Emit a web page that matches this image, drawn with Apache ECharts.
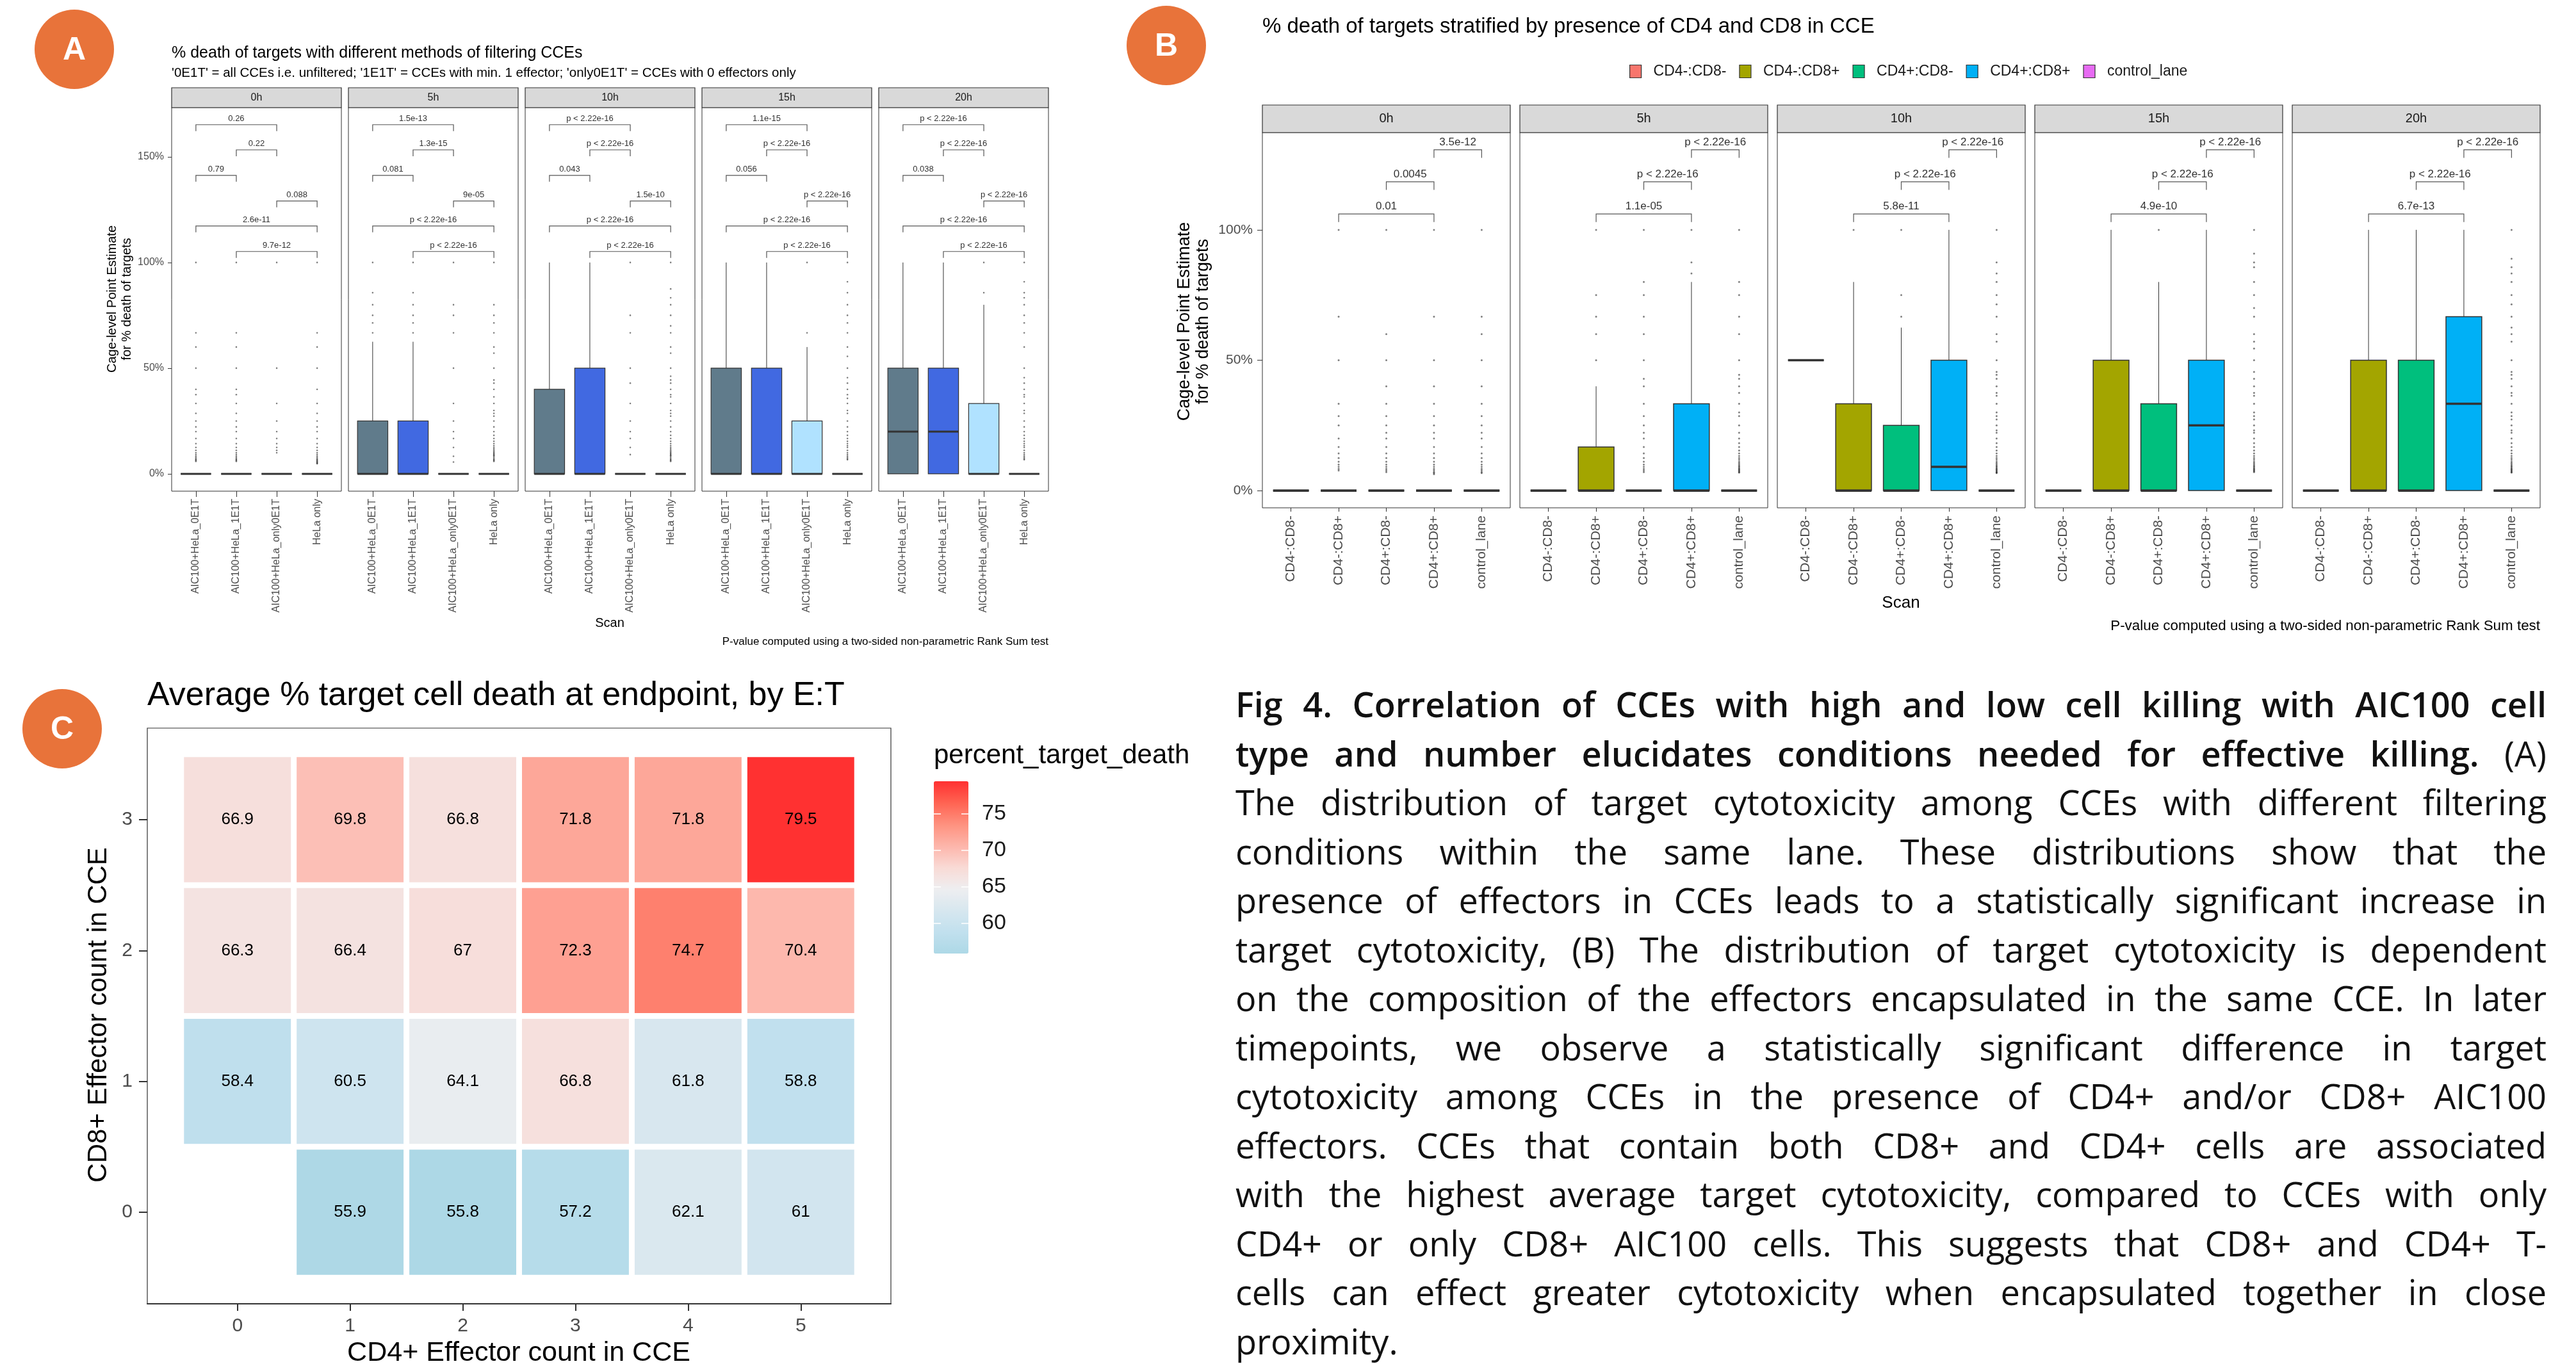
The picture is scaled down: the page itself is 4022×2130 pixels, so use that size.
<!DOCTYPE html>
<html>
<head>
<meta charset="utf-8">
<title>Fig 4</title>
<script src="https://cdn.jsdelivr.net/npm/echarts@6.0.0/dist/echarts.min.js"></script>
<style>
  html, body { margin: 0; padding: 0; background: #fff; }
  #chart { position: absolute; left: 0; top: 0; width: 4022px; height: 2130px; }
  #caption { position: absolute; left: 1929px; top: 1061px; width: 2047px;
    font-family: 'Open Sans', 'Noto Sans', sans-serif; font-size: 54px; line-height: 76.5px; color: #111; }
  #caption div { text-align: justify; text-align-last: justify; }
  #caption div.last { text-align-last: left; }
  #caption b { font-weight: 600; }
</style>
</head>
<body>
<div id="chart"></div>
<div id="caption">
  <div><b>Fig 4. Correlation of CCEs with high and low cell killing with AIC100 cell</b></div>
  <div><b>type and number elucidates conditions needed for effective killing.</b> (A)</div>
  <div>The distribution of target cytotoxicity among CCEs with different filtering</div>
  <div>conditions within the same lane. These distributions show that the</div>
  <div>presence of effectors in CCEs leads to a statistically significant increase in</div>
  <div>target cytotoxicity, (B) The distribution of target cytotoxicity is dependent</div>
  <div>on the composition of the effectors encapsulated in the same CCE. In later</div>
  <div>timepoints, we observe a statistically significant difference in target</div>
  <div>cytotoxicity among CCEs in the presence of CD4+ and/or CD8+ AIC100</div>
  <div>effectors. CCEs that contain both CD8+ and CD4+ cells are associated</div>
  <div>with the highest average target cytotoxicity, compared to CCEs with only</div>
  <div>CD4+ or only CD8+ AIC100 cells. This suggests that CD8+ and CD4+ T-</div>
  <div>cells can effect greater cytotoxicity when encapsulated together in close</div>
  <div class="last">proximity.</div>
</div>
<script>
var FONT = 'Liberation Sans, Arial, sans-serif';
var GREY = '#4D4D4D';
var DARK = '#333333';

var facets = ['0h', '5h', '10h', '15h', '20h'];

// ---- panel A : filtering methods ----
var groupsA = ['AIC100+HeLa_0E1T', 'AIC100+HeLa_1E1T', 'AIC100+HeLa_only0E1T', 'HeLa only'];
var colorsA = ['#607B8B', '#4169E1', '#B0E2FF', '#BEBEBE'];
// [min, q1, median, q3, max] for each time point and group
var boxA = [
  [[0, 0, 0, 0, 0], [0, 0, 0, 0, 0], [0, 0, 0, 0, 0], [0, 0, 0, 0, 0]],
  [[0, 0, 0, 25, 62.5], [0, 0, 0, 25, 62.5], [0, 0, 0, 0, 0], [0, 0, 0, 0, 0]],
  [[0, 0, 0, 40, 100], [0, 0, 0, 50, 100], [0, 0, 0, 0, 0], [0, 0, 0, 0, 0]],
  [[0, 0, 0, 50, 100], [0, 0, 0, 50, 100], [0, 0, 0, 25, 60], [0, 0, 0, 0, 0]],
  [[0, 0, 20, 50, 100], [0, 0, 20, 50, 100], [0, 0, 0, 33.3, 80], [0, 0, 0, 0, 0]]
];
var outA = [
  [
    [100, 66.7, 60, 50, 40, 37.5, 33.3, 28.6, 25, 22.2, 20, 16.7, 14.3, 12.5, 11.1, 10, 9.1, 8.3, 7.7, 7.1, 6.7, 6.3, 5.9],
    [100, 66.7, 60, 50, 40, 37.5, 33.3, 28.6, 25, 22.2, 20, 16.7, 14.3, 12.5, 11.1, 10, 9.1, 8.3, 7.7, 7.1, 6.7, 6.3, 5.9],
    [100, 50, 33.3, 25, 20, 16.7, 14.3, 12.5, 11.1, 10],
    [100, 66.7, 60, 50, 40, 33.3, 28.6, 25, 22.2, 20, 16.7, 14.3, 12.5, 11.1, 10, 9.1, 8.3, 7.7, 7.1, 6.7, 6.3, 5.9, 5.6, 5.3, 5, 4.8]
  ],
  [
    [100, 85.7, 80, 75, 71.4, 66.7],
    [100, 85.7, 80, 75, 71.4, 66.7],
    [100, 80, 75, 66.7, 50, 33.3, 25, 20, 16.7, 12.5, 8.3, 5.6],
    [100, 80, 75, 71.4, 66.7, 60, 57.1, 50, 44.4, 42.9, 40, 36.4, 33.3, 30, 28.6, 27.3, 25, 22.2, 20, 18.2, 16.7, 15.4, 14.3, 13.3, 12.5, 11.8, 11.1, 10.5, 10, 9.5, 9.1, 8.7, 8.3, 7.7, 7.1, 6.7, 6.3, 5.9]
  ],
  [
    [],
    [],
    [100, 75, 66.7, 50, 42.9, 33.3, 25, 20, 16.7, 12.5, 9.1],
    [100, 87.5, 83.3, 80, 75, 70, 66.7, 60, 57.1, 50, 46.2, 44.4, 42.9, 40, 37.5, 36.4, 33.3, 30, 28.6, 27.3, 25, 22.2, 20, 18.2, 16.7, 15.4, 14.3, 13.3, 12.5, 11.8, 11.1, 10.5, 10, 9.5, 9.1, 8.7, 8.3, 7.7, 7.1, 6.7, 6.3, 5.9]
  ],
  [
    [],
    [],
    [100, 66.7],
    [100, 90.9, 85.7, 80, 75, 71.4, 66.7, 60, 55.6, 50, 45.5, 42.9, 40, 37.5, 35.7, 33.3, 30, 28.6, 25, 22.2, 20, 18.2, 16.7, 15.4, 14.3, 13.3, 12.5, 11.1, 10, 9.1, 8.3, 7.7, 7.1, 6.7]
  ],
  [
    [],
    [],
    [100, 85.7],
    [100, 90.9, 85.7, 83.3, 80, 75, 71.4, 66.7, 60, 50, 45.5, 42.9, 40, 37.5, 36.4, 33.3, 30, 28.6, 25, 22.2, 20, 18.2, 16.7, 15.4, 14.3, 13.3, 12.5, 11.1, 10, 9.1, 8.3, 7.7, 7.1, 6.7]
  ]
];
var pairsA = [[1, 3], [2, 3], [1, 2], [3, 4], [1, 4], [2, 4]];
var levelsA = [165.2, 153.3, 141.2, 129.1, 117.3, 105.2];
var pvalA = [
  ['0.26', '0.22', '0.79', '0.088', '2.6e-11', '9.7e-12'],
  ['1.5e-13', '1.3e-15', '0.081', '9e-05', 'p < 2.22e-16', 'p < 2.22e-16'],
  ['p < 2.22e-16', 'p < 2.22e-16', '0.043', '1.5e-10', 'p < 2.22e-16', 'p < 2.22e-16'],
  ['1.1e-15', 'p < 2.22e-16', '0.056', 'p < 2.22e-16', 'p < 2.22e-16', 'p < 2.22e-16'],
  ['p < 2.22e-16', 'p < 2.22e-16', '0.038', 'p < 2.22e-16', 'p < 2.22e-16', 'p < 2.22e-16']
];
var ticksA = [0, 50, 100, 150];

// ---- panel B : CD4 / CD8 composition ----
var groupsB = ['CD4-:CD8-', 'CD4-:CD8+', 'CD4+:CD8-', 'CD4+:CD8+', 'control_lane'];
var colorsB = ['#F8766D', '#A3A500', '#00BF7D', '#00B0F6', '#E76BF3'];
var boxB = [
  [[0, 0, 0, 0, 0], [0, 0, 0, 0, 0], [0, 0, 0, 0, 0], [0, 0, 0, 0, 0], [0, 0, 0, 0, 0]],
  [[0, 0, 0, 0, 0], [0, 0, 0, 16.7, 40], [0, 0, 0, 0, 0], [0, 0, 0, 33.3, 80], [0, 0, 0, 0, 0]],
  [[50, 50, 50, 50, 50], [0, 0, 0, 33.3, 80], [0, 0, 0, 25, 62.5], [0, 0, 9.1, 50, 100], [0, 0, 0, 0, 0]],
  [[0, 0, 0, 0, 0], [0, 0, 0, 50, 100], [0, 0, 0, 33.3, 80], [0, 0, 25, 50, 100], [0, 0, 0, 0, 0]],
  [[0, 0, 0, 0, 0], [0, 0, 0, 50, 100], [0, 0, 0, 50, 100], [0, 0, 33.3, 66.7, 100], [0, 0, 0, 0, 0]]
];
var outB = [
  [
    [],
    [100, 66.7, 50, 33.3, 28.6, 25, 20, 16.7, 14.3, 12.5, 11.1, 10, 9.1, 8.3, 7.7],
    [100, 60, 50, 40, 33.3, 28.6, 25, 22.2, 20, 16.7, 14.3, 12.5, 11.1, 10, 9.1, 8.3, 7.7, 7.1],
    [100, 66.7, 50, 40, 33.3, 28.6, 25, 22.2, 20, 16.7, 14.3, 12.5, 11.1, 10, 9.1, 8.3, 7.7, 7.1, 6.7, 6.3],
    [100, 66.7, 60, 50, 40, 33.3, 28.6, 25, 22.2, 20, 16.7, 14.3, 12.5, 11.1, 10, 9.1, 8.3, 7.7, 7.1, 6.7]
  ],
  [
    [],
    [100, 75, 66.7, 60, 50],
    [100, 80, 75, 66.7, 60, 50, 42.9, 40, 33.3, 28.6, 25, 22.2, 20, 16.7, 14.3, 12.5, 11.1, 10, 9.1, 8.3, 7.7, 7.1],
    [100, 87.5, 83.3],
    [100, 80, 75, 66.7, 60, 50, 44.4, 42.9, 40, 37.5, 33.3, 30, 28.6, 25, 22.2, 20, 18.2, 16.7, 15.4, 14.3, 13.3, 12.5, 11.8, 11.1, 10.5, 10, 9.5, 9.1, 8.7, 8.3, 8, 7.7, 7.4, 7.1, 6.9]
  ],
  [
    [],
    [100],
    [100, 75, 66.7],
    [],
    [100, 87.5, 83.3, 80, 75, 71.4, 66.7, 60, 57.1, 50, 45.5, 44.4, 42.9, 40, 37.5, 36.4, 33.3, 30, 28.6, 27.3, 25, 23.1, 22.2, 20, 18.2, 16.7, 15.4, 14.3, 13.3, 12.5, 11.8, 11.1, 10.5, 10, 9.5, 9.1, 8.7, 8.3, 8, 7.7, 7.4, 7.1, 6.9, 6.7]
  ],
  [
    [],
    [],
    [100],
    [],
    [100, 90.9, 87.5, 85.7, 80, 75, 70, 66.7, 60, 57.1, 54.5, 50, 45.5, 42.9, 40, 37.5, 36.4, 33.3, 30, 28.6, 27.3, 25, 23.1, 22.2, 20, 18.2, 16.7, 15.4, 14.3, 13.3, 12.5, 11.8, 11.1, 10.5, 10, 9.5, 9.1, 8.7, 8.3, 8, 7.7, 7.4, 7.1]
  ],
  [
    [],
    [],
    [],
    [],
    [100, 88.9, 85.7, 83.3, 80, 75, 71.4, 66.7, 62.5, 60, 57.1, 50, 45.5, 44.4, 42.9, 40, 37.5, 36.4, 33.3, 30, 28.6, 27.3, 25, 23.1, 22.2, 20, 18.2, 16.7, 15.4, 14.3, 13.3, 12.5, 11.8, 11.1, 10.5, 10, 9.5, 9.1, 8.7, 8.3, 8, 7.7, 7.4, 7.1, 6.9]
  ]
];
var pairsB = [[4, 5], [3, 4], [2, 4]];
var levelsB = [130.7, 118.4, 106.1];
var pvalB = [
  ['3.5e-12', '0.0045', '0.01'],
  ['p < 2.22e-16', 'p < 2.22e-16', '1.1e-05'],
  ['p < 2.22e-16', 'p < 2.22e-16', '5.8e-11'],
  ['p < 2.22e-16', 'p < 2.22e-16', '4.9e-10'],
  ['p < 2.22e-16', 'p < 2.22e-16', '6.7e-13']
];
var ticksB = [0, 50, 100];

// ---- panel C : heatmap ----
var cd4 = [0, 1, 2, 3, 4, 5];
var cd8 = [0, 1, 2, 3];
// rows follow cd8, columns follow cd4
var heatVals = [
  [null, 55.9, 55.8, 57.2, 62.1, 61],
  [58.4, 60.5, 64.1, 66.8, 61.8, 58.8],
  [66.3, 66.4, 67, 72.3, 74.7, 70.4],
  [66.9, 69.8, 66.8, 71.8, 71.8, 79.5]
];
var barTicks = [60, 65, 70, 75];

// layout (px)
var layA = {left: [268, 544, 820, 1096, 1372], width: 265, stripTop: 137, top: 168, bottom: 767, yMin: -8.2, yMax: 173.3};
var layB = {left: [1971, 2373, 2775, 3177, 3579], width: 387, stripTop: 164, top: 207, bottom: 793, yMin: -6.6, yMax: 137.3};
var styA = {xFont: 16, xMargin: 12, xTick: 9, yFont: 16, yMargin: 12, yTick: 6, yTicks: ticksA,
  dot: 2.6, boxLine: 1.2, medLine: 3, leg: 3, pFont: 13, stripFont: 16};
var styB = {xFont: 21, xMargin: 12, xTick: 6, yFont: 21, yMargin: 15, yTick: 8, yTicks: ticksB,
  dot: 3, boxLine: 1.5, medLine: 3.6, leg: 3.1, pFont: 17, stripFont: 20};

var chart = echarts.init(document.getElementById('chart'));

var grids = [], xAxes = [], yAxes = [], series = [], graphics = [];

function seq(n) {
  var r = [];
  for (var i = 1; i <= n; i++) r.push(i);
  return r;
}

function boxRender(lw, medW) {
  return function (params, api) {
    var x = api.value(0);
    var lo = api.coord([x, api.value(1)]);
    var q1 = api.coord([x, api.value(2)]);
    var md = api.coord([x, api.value(3)]);
    var q3 = api.coord([x, api.value(4)]);
    var hi = api.coord([x, api.value(5)]);
    var w = api.size([0.75, 0])[0];
    var cx = md[0];
    return {
      type: 'group',
      children: [
        {type: 'line', shape: {x1: cx, y1: q3[1], x2: cx, y2: hi[1]}, style: {stroke: DARK, lineWidth: 1}},
        {type: 'line', shape: {x1: cx, y1: q1[1], x2: cx, y2: lo[1]}, style: {stroke: DARK, lineWidth: 1}},
        {type: 'rect', shape: {x: cx - w / 2, y: q3[1], width: w, height: q1[1] - q3[1]},
          style: {fill: api.visual('color'), stroke: DARK, lineWidth: lw}},
        {type: 'line', shape: {x1: cx - w / 2, y1: md[1], x2: cx + w / 2, y2: md[1]}, style: {stroke: DARK, lineWidth: medW}}
      ]
    };
  };
}

function bracketRender(labels, leg, fs) {
  return function (params, api) {
    var y = api.value(2);
    var a = api.coord([api.value(0), y]);
    var b = api.coord([api.value(1), y]);
    var low = api.coord([api.value(0), y - leg])[1];
    return {
      type: 'group',
      children: [
        {type: 'polyline', shape: {points: [[a[0], low], [a[0], a[1]], [b[0], b[1]], [b[0], low]]},
          style: {stroke: '#555555', lineWidth: 1.2, fill: 'none'}},
        {type: 'text', x: (a[0] + b[0]) / 2, y: a[1] - 3,
          style: {text: labels[params.dataIndex], align: 'center', verticalAlign: 'bottom',
            fontSize: fs, fontFamily: FONT, fill: '#333333'}}
      ]
    };
  };
}

function addFacet(lay, fi, cats, colors, boxes, outs, pairs, levels, pvals, st) {
  var gi = grids.length;
  grids.push({left: lay.left[fi], top: lay.top, width: lay.width, height: lay.bottom - lay.top,
    show: true, borderColor: DARK, borderWidth: 1, backgroundColor: 'transparent', outerBoundsMode: 'none'});
  var ticks = seq(cats.length);
  xAxes.push({type: 'value', gridIndex: gi, min: 0.4, max: cats.length + 0.6,
    axisLine: {show: false, onZero: false},
    axisTick: {show: true, customValues: ticks, length: st.xTick, lineStyle: {color: DARK}},
    axisLabel: {customValues: ticks, rotate: 90, margin: st.xMargin, fontSize: st.xFont, color: GREY, fontFamily: FONT,
      formatter: function (v) { return cats[Math.round(v) - 1]; }},
    splitLine: {show: false}});
  yAxes.push({type: 'value', gridIndex: gi, min: lay.yMin, max: lay.yMax,
    axisLine: {show: false, onZero: false},
    axisTick: {show: fi === 0, customValues: st.yTicks, length: st.yTick, lineStyle: {color: DARK}},
    axisLabel: {show: fi === 0, customValues: st.yTicks, formatter: '{value}%', margin: st.yMargin,
      fontSize: st.yFont, color: GREY, fontFamily: FONT},
    splitLine: {show: false}});
  var pts = [];
  outs.forEach(function (vals, k) {
    vals.forEach(function (v) { pts.push([k + 1, v]); });
  });
  series.push({type: 'scatter', xAxisIndex: gi, yAxisIndex: gi, symbolSize: st.dot, silent: true,
    itemStyle: {color: 'rgba(35,35,35,0.72)'}, data: pts});
  series.push({type: 'custom', xAxisIndex: gi, yAxisIndex: gi, silent: true,
    renderItem: boxRender(st.boxLine, st.medLine), encode: {x: 0, y: [1, 2, 3, 4, 5]},
    data: boxes.map(function (b, k) { return {value: [k + 1].concat(b), itemStyle: {color: colors[k]}}; })});
  series.push({type: 'custom', xAxisIndex: gi, yAxisIndex: gi, silent: true,
    renderItem: bracketRender(pvals, st.leg, st.pFont), encode: {x: [0, 1], y: 2},
    data: pairs.map(function (p, k) { return [p[0], p[1], levels[k]]; })});
  graphics.push({type: 'rect', z: 5,
    shape: {x: lay.left[fi], y: lay.stripTop, width: lay.width, height: lay.top - lay.stripTop},
    style: {fill: '#D9D9D9', stroke: DARK, lineWidth: 1.2}});
  graphics.push({type: 'text', z: 6, x: lay.left[fi] + lay.width / 2, y: (lay.stripTop + lay.top) / 2,
    style: {text: facets[fi], fontSize: st.stripFont, fontFamily: FONT, fill: '#1A1A1A',
      align: 'center', verticalAlign: 'middle'}});
}

facets.forEach(function (f, fi) {
  addFacet(layA, fi, groupsA, colorsA, boxA[fi], outA[fi], pairsA, levelsA, pvalA[fi], styA);
});
facets.forEach(function (f, fi) {
  addFacet(layB, fi, groupsB, colorsB, boxB[fi], outB[fi], pairsB, levelsB, pvalB[fi], styB);
});

// legend entries for panel B
groupsB.forEach(function (g, k) {
  series.push({type: 'custom', name: g, xAxisIndex: 5, yAxisIndex: 5, data: [],
    itemStyle: {color: colorsB[k]}, renderItem: function () { return null; }});
});

// heatmap grid
var hg = grids.length;
grids.push({left: 230, top: 1137, width: 1161, height: 899, show: true, borderColor: DARK, borderWidth: 1.2,
  backgroundColor: 'transparent', outerBoundsMode: 'none'});
xAxes.push({type: 'value', gridIndex: hg, min: -0.8, max: 5.8,
  axisLine: {show: true, onZero: false, lineStyle: {color: DARK, width: 2}},
  axisTick: {customValues: cd4, length: 11, lineStyle: {color: DARK, width: 2}},
  axisLabel: {customValues: cd4, margin: 20, fontSize: 30, color: GREY, fontFamily: FONT},
  splitLine: {show: false}});
yAxes.push({type: 'value', gridIndex: hg, min: -0.7, max: 3.7,
  axisLine: {show: false, onZero: false},
  axisTick: {customValues: cd8, length: 13, lineStyle: {color: DARK, width: 2}},
  axisLabel: {customValues: cd8, margin: 23, fontSize: 30, color: GREY, fontFamily: FONT},
  splitLine: {show: false}});
var heatData = [];
cd8.forEach(function (r, ri) {
  cd4.forEach(function (c, ci) {
    if (heatVals[ri][ci] != null) heatData.push([c, r, heatVals[ri][ci]]);
  });
});
var heatIndex = series.length;
series.push({type: 'custom', xAxisIndex: hg, yAxisIndex: hg, silent: true, encode: {x: 0, y: 1},
  data: heatData,
  renderItem: function (params, api) {
    var x = api.value(0), y = api.value(1), v = api.value(2);
    var p0 = api.coord([x - 0.5, y + 0.5]);
    var p1 = api.coord([x + 0.5, y - 0.5]);
    var inset = 4.5;
    return {
      type: 'group',
      children: [
        {type: 'rect', shape: {x: p0[0] + inset, y: p0[1] + inset, width: p1[0] - p0[0] - 2 * inset,
          height: p1[1] - p0[1] - 2 * inset}, style: {fill: api.visual('color')}},
        {type: 'text', x: (p0[0] + p1[0]) / 2, y: (p0[1] + p1[1]) / 2,
          style: {text: String(v), align: 'center', verticalAlign: 'middle', fontSize: 26,
            fontFamily: FONT, fill: '#000000'}}
      ]
    };
  }});

// colour bar ticks
var bg = grids.length;
grids.push({left: 1458, top: 1220, width: 54, height: 269, show: false, outerBoundsMode: 'none'});
xAxes.push({type: 'value', gridIndex: bg, show: false, min: 0, max: 1});
yAxes.push({type: 'value', gridIndex: bg, position: 'right', min: 55.8, max: 79.5, z: 10,
  axisLine: {show: false, onZero: false},
  axisTick: {customValues: barTicks, inside: true, length: 11, lineStyle: {color: '#FFFFFF', width: 1.5}},
  axisLabel: {customValues: barTicks, margin: 21, fontSize: 34, color: '#1A1A1A', fontFamily: FONT},
  splitLine: {show: false}});
yAxes.push({type: 'value', gridIndex: bg, position: 'left', min: 55.8, max: 79.5, z: 10,
  axisLine: {show: false, onZero: false},
  axisTick: {customValues: barTicks, inside: true, length: 11, lineStyle: {color: '#FFFFFF', width: 1.5}},
  axisLabel: {show: false},
  splitLine: {show: false}});

// text and decorations
function txt(x, y, s, size, opts) {
  var o = opts || {};
  return {type: 'text', x: x, y: y, rotation: o.rot || 0, z: 6,
    style: {text: s, fontSize: size, fontFamily: o.font || FONT, fontWeight: o.weight || 'normal',
      fill: o.color || '#000000', align: o.align || 'left', verticalAlign: 'middle', lineHeight: o.lh}};
}
[['A', 116, 77], ['B', 1821, 71], ['C', 97, 1138]].forEach(function (c) {
  graphics.push({type: 'circle', z: 6, shape: {cx: c[1], cy: c[2], r: 62}, style: {fill: '#E8733A'}});
  graphics.push(txt(c[1], c[2] + 2, c[0], 50, {align: 'center', color: '#FFFFFF', weight: 'bold'}));
});
graphics.push(txt(268, 83, '% death of targets with different methods of filtering CCEs', 25));
graphics.push(txt(268, 114, "'0E1T' = all CCEs i.e. unfiltered; '1E1T' = CCEs with min. 1 effector; 'only0E1T' = CCEs with 0 effectors only", 20.5));
graphics.push(txt(187, 467, 'Cage-level Point Estimate\nfor % death of targets', 20, {align: 'center', rot: Math.PI / 2, lh: 23}));
graphics.push(txt(952, 973, 'Scan', 20, {align: 'center'}));
graphics.push(txt(1637, 1002, 'P-value computed using a two-sided non-parametric Rank Sum test', 17, {align: 'right'}));

graphics.push(txt(1971, 42, '% death of targets stratified by presence of CD4 and CD8 in CCE', 33));
graphics.push(txt(1864, 502, 'Cage-level Point Estimate\nfor % death of targets', 27, {align: 'center', rot: Math.PI / 2, lh: 29}));
graphics.push(txt(2968, 942, 'Scan', 26, {align: 'center'}));
graphics.push(txt(3966, 978, 'P-value computed using a two-sided non-parametric Rank Sum test', 22.4, {align: 'right'}));

graphics.push(txt(230, 1087, 'Average % target cell death at endpoint, by E:T', 52));
graphics.push(txt(810, 2113, 'CD4+ Effector count in CCE', 43, {align: 'center'}));
graphics.push(txt(154, 1585, 'CD8+ Effector count in CCE', 42, {align: 'center', rot: Math.PI / 2}));
graphics.push(txt(1458, 1180, 'percent_target_death', 42));

chart.setOption({
  animation: false,
  backgroundColor: '#FFFFFF',
  grid: grids,
  xAxis: xAxes,
  yAxis: yAxes,
  legend: {
    data: groupsB, left: 2539, top: 95, icon: 'rect', itemWidth: 18, itemHeight: 20, itemGap: 20,
    selectedMode: false, itemStyle: {borderColor: DARK, borderWidth: 1.2},
    textStyle: {fontSize: 23, color: '#1A1A1A', fontFamily: FONT, padding: [0, 0, 0, 14]}
  },
  visualMap: {
    type: 'continuous', seriesIndex: heatIndex, dimension: 2, min: 55.8, max: 79.5,
    left: 1458, top: 1220, itemWidth: 54, itemHeight: 269, calculable: false, hoverLink: false,
    padding: 0, text: null, orient: 'vertical',
    inRange: {color: ['#ADD8E6', '#C1E0EE', '#D7E7EF', '#EEEEF0', '#F9DAD5', '#FDB5AA', '#FE917F', '#FF6352', '#FF3131']}
  },
  graphic: {elements: graphics},
  series: series
});
</script>
</body>
</html>
